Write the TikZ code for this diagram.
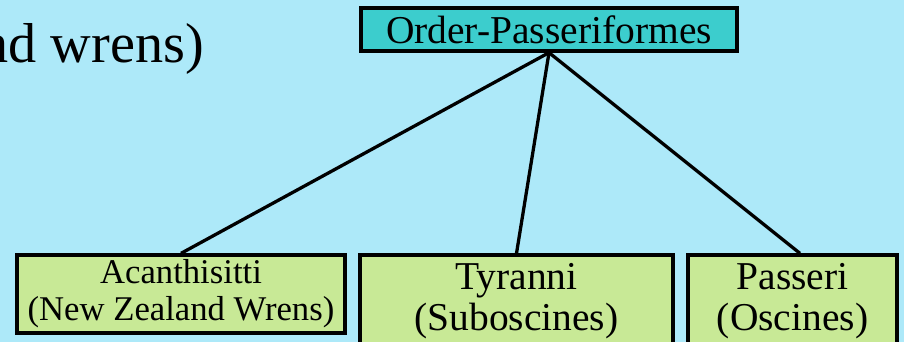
\documentclass[tikz,border=0pt]{standalone}
\usepackage{fontspec}
\setmainfont{Liberation Serif}
\usetikzlibrary{positioning,backgrounds}

\definecolor{skyback}{RGB}{173,233,249}
\definecolor{ordercyan}{RGB}{60,205,205}
\definecolor{subgreen}{RGB}{200,233,150}

\tikzset{
  taxon/.style={draw=black,line width=2.8pt,fill=subgreen,align=center,inner sep=0pt},
  link/.style={line width=2.8pt}
}

\begin{document}
\begin{tikzpicture}[x=0.3mm,y=-0.3mm]
\useasboundingbox (0,0) rectangle (904,342);
\node[anchor=base east,font=\fontsize{48}{52}\selectfont] (title) at (208,63) {nd wrens)};
\path (549,29.5) node[draw=black,line width=2.8pt,fill=ordercyan,minimum width=112.8mm,
    minimum height=12.9mm,inner sep=0pt,font=\fontsize{33.7}{36}\selectfont] (order) {Order-Passeriformes};
\path (181,294) node[taxon,minimum width=98.4mm,minimum height=23.4mm,
    font=\fontsize{29.6}{31.6}\selectfont] (acan) {Acanthisitti\\(New Zealand Wrens)};
\path (516.5,301) node[taxon,minimum width=93.9mm,minimum height=27.6mm,
    font=\fontsize{33.7}{35}\selectfont] (tyran) {Tyranni\\(Suboscines)};
\path (792.5,301) node[taxon,minimum width=62.7mm,minimum height=27.6mm,
    font=\fontsize{33.7}{35}\selectfont] (passer) {Passeri\\(Oscines)};
\begin{scope}[on background layer]
\fill[skyback] (0,0) rectangle (904,342);
\draw[link] (order.south) -- (acan.north);
\draw[link] (order.south) -- (tyran.north);
\draw[link] (order.south) -- ([xshift=2.25mm]passer.north);
\end{scope}
\end{tikzpicture}
\end{document}
